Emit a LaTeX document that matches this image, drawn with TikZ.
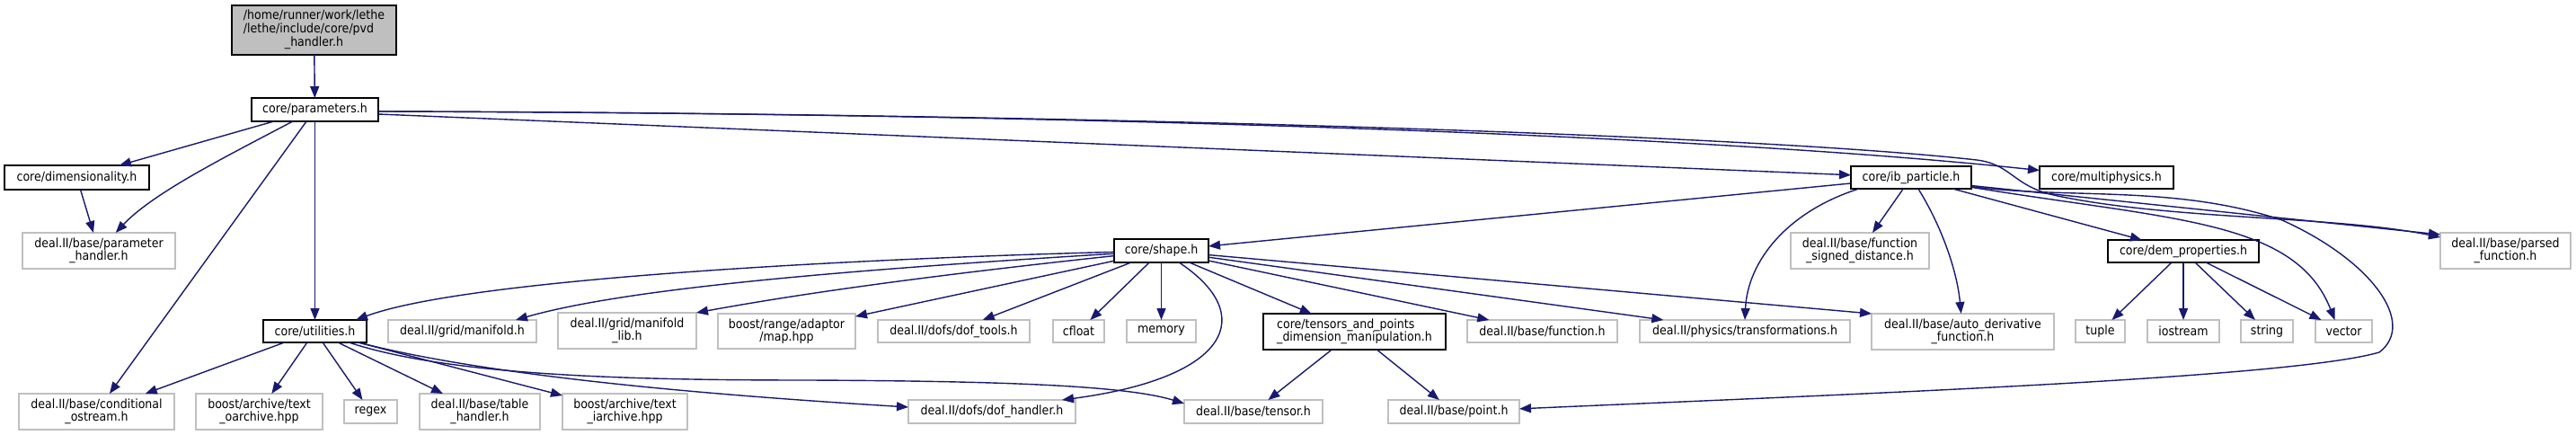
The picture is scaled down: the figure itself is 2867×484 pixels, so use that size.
\documentclass[tikz,border=0pt]{standalone}
\usepackage{fontspec}
\setmainfont{DejaVu Sans Condensed}
\usetikzlibrary{arrows.meta}
\definecolor{edgec}{HTML}{191970}
\definecolor{grayb}{HTML}{BFBFBF}
\begin{document}
\begin{tikzpicture}[x=1pt,y=-1pt,
  base/.style={rectangle,inner sep=0pt,outer sep=0pt,line width=1.7pt,font=\fontsize{14}{14.5}\selectfont,align=center,text=black},
  docbox/.style={base,draw=black,fill=white},
  extbox/.style={base,draw=grayb,fill=white},
  dep/.style={draw=edgec,line width=1.4pt,-{Triangle[length=13pt,width=10pt]}},
]
\useasboundingbox[fill=white] (0,0) rectangle (2867,484);
% documented nodes
\node[docbox,fill=grayb,minimum width=183pt,minimum height=55pt] (pvd) at (349.5,33.5)
  {\begin{tabular}{@{}l@{}}/home/runner/work/lethe\\/lethe/include/core/pvd\\\multicolumn{1}{@{}c@{}}{\_handler.h}\end{tabular}};
\node[docbox,minimum width=141pt,minimum height=26pt] (param) at (350.5,122) {core/parameters.h};
\node[docbox,minimum width=161pt,minimum height=27pt] (dim) at (85.5,197.5) {core/dimensionality.h};
\node[docbox,minimum width=115pt,minimum height=25pt] (util) at (350.5,368.5) {core/utilities.h};
\node[docbox,minimum width=105pt,minimum height=26pt] (shape) at (1292.5,279) {core/shape.h};
\node[docbox,minimum width=203pt,minimum height=40pt,align=left] (tap) at (1507.5,369) {core/tensors\_and\_points\\\_dimension\_manipulation.h};
\node[docbox,minimum width=134pt,minimum height=25pt] (ib) at (2127,197.5) {core/ib\_particle.h};
\node[docbox,minimum width=149pt,minimum height=25pt] (multi) at (2344.5,197.5) {core/multiphysics.h};
\node[docbox,minimum width=168pt,minimum height=25pt] (dem) at (2430,279.5) {core/dem\_properties.h};
% external nodes
\node[extbox,minimum width=170pt,minimum height=40pt] (ph) at (110,279) {deal.II/base/parameter\\\_handler.h};
\node[extbox,minimum width=165pt,minimum height=25pt] (manifold) at (514.5,368.5) {deal.II/grid/manifold.h};
\node[extbox,minimum width=154pt,minimum height=40pt] (mlib) at (698,368) {deal.II/grid/manifold\\\_lib.h};
\node[extbox,minimum width=153pt,minimum height=39pt] (map) at (875.5,368.5) {boost/range/adaptor\\/map.hpp};
\node[extbox,minimum width=169pt,minimum height=25pt] (doftools) at (1061.5,368.5) {deal.II/dofs/dof\_tools.h};
\node[extbox,minimum width=57pt,minimum height=25pt] (cfloat) at (1200.5,368.5) {cfloat};
\node[extbox,minimum width=77pt,minimum height=25pt] (memory) at (1292.5,368.5) {memory};
\node[extbox,minimum width=167pt,minimum height=25pt] (function) at (1716.5,368.5) {deal.II/base/function.h};
\node[extbox,minimum width=234pt,minimum height=25pt] (transf) at (1942,368.5) {deal.II/physics/transformations.h};
\node[extbox,minimum width=203pt,minimum height=40pt] (autod) at (2184.5,369) {deal.II/base/auto\_derivative\\\_function.h};
\node[extbox,minimum width=154pt,minimum height=40pt] (fsd) at (2070,279) {deal.II/base/function\\\_signed\_distance.h};
\node[extbox,minimum width=145pt,minimum height=40pt] (parsed) at (2788.5,279) {deal.II/base/parsed\\\_function.h};
\node[extbox,minimum width=173pt,minimum height=40pt] (cos) at (107.5,458) {deal.II/base/conditional\\\_ostream.h};
\node[extbox,minimum width=141pt,minimum height=40pt] (oarch) at (288.5,458) {boost/archive/text\\\_oarchive.hpp};
\node[extbox,minimum width=59pt,minimum height=26pt] (regex) at (412.5,458) {regex};
\node[extbox,minimum width=134pt,minimum height=40pt] (table) at (534,458) {deal.II/base/table\\\_handler.h};
\node[extbox,minimum width=139pt,minimum height=40pt] (iarch) at (695.5,458) {boost/archive/text\\\_iarchive.hpp};
\node[extbox,minimum width=186pt,minimum height=26pt] (dofh) at (1104,458) {deal.II/dofs/dof\_handler.h};
\node[extbox,minimum width=154pt,minimum height=26pt] (tensor) at (1395,458) {deal.II/base/tensor.h};
\node[extbox,minimum width=146pt,minimum height=26pt] (point) at (1618,458) {deal.II/base/point.h};
\node[extbox,minimum width=55pt,minimum height=25pt] (tuple) at (2337.5,368.5) {tuple};
\node[extbox,minimum width=80pt,minimum height=25pt] (iostream) at (2430,368.5) {iostream};
\node[extbox,minimum width=58pt,minimum height=25pt] (string) at (2523,368.5) {string};
\node[extbox,minimum width=63pt,minimum height=25pt] (vector) at (2608.5,368.5) {vector};
% edges
\draw[dep] (pvd) -- (param);
\draw[dep] (param) -- (dim);
\draw[dep] (param) .. controls (250,175) and (170,215) .. (ph);
\draw[dep] (param) -- (cos);
\draw[dep] (param) -- (util);
\draw[dep] ([yshift=-5pt]param.east) -- (ib);
\draw[dep] ([yshift=-2pt]param.east) .. controls (1200,126) and (1900,150) .. (multi);
\draw[dep] ([yshift=-2pt]param.east) .. controls (1200,126) and (1950,150) .. (2200,178)
  .. controls (2240,183) and (2240,208) .. (2290,218)
  .. controls (2420,245) and (2600,240) .. (parsed);
\draw[dep] (dim) -- (ph);
\draw[dep] (ib) -- (shape);
\draw[dep] ([xshift=-58pt]ib.south) .. controls (1990,235) and (1945,290) .. (transf.north);
\draw[dep] (ib) -- (fsd);
\draw[dep] (ib) .. controls (2160,250) and (2178,300) .. (autod);
\draw[dep] (ib) -- (dem);
\draw[dep] ([yshift=-9pt]ib.east) -- ([yshift=18pt]parsed.west);
\draw[dep] (ib) .. controls (2420,245) and (2555,245) .. ([xshift=-10pt]vector.north);
\draw[dep] ([yshift=-10pt]ib.east) .. controls (2300,222) and (2420,205) .. (2540,245)
  .. controls (2640,290) and (2690,360) .. (2648,392)
  .. controls (2550,420) and (2100,437) .. (point);
\draw[dep] (shape) .. controls (950,288) and (520,310) .. ([xshift=-12pt]util.north east);
\draw[dep] (shape) .. controls (950,300) and (700,320) .. ([xshift=-23pt]manifold.north east);
\draw[dep] (shape) .. controls (1050,305) and (900,325) .. (mlib.north east);
\draw[dep] (shape) -- (map);
\draw[dep] (shape) -- (doftools);
\draw[dep] (shape) -- (cfloat);
\draw[dep] (shape) -- (memory);
\draw[dep] (shape) .. controls (1400,350) and (1370,420) .. ([xshift=-15pt]dofh.north east);
\draw[dep] (shape) -- (tap);
\draw[dep] (shape) -- (function);
\draw[dep] (shape) -- (transf);
\draw[dep] (shape) -- (autod.north west);
\draw[dep] (util) -- (cos);
\draw[dep] (util) -- (oarch);
\draw[dep] (util) -- (regex);
\draw[dep] (util) -- (table);
\draw[dep] (util) -- (iarch);
\draw[dep] (util) .. controls (500,418) and (700,423) .. (900,423)
  .. controls (1100,424) and (1250,428) .. ([yshift=-4pt]tensor.north west);
\draw[dep] (util) .. controls (550,420) and (800,440) .. ([yshift=5pt]dofh.west);
\draw[dep] (tap) -- (tensor);
\draw[dep] (tap) -- (point);
\draw[dep] (dem) -- (tuple);
\draw[dep] (dem) -- (iostream);
\draw[dep] (dem) -- (string);
\draw[dep] (dem) -- (vector);
\end{tikzpicture}
\end{document}
